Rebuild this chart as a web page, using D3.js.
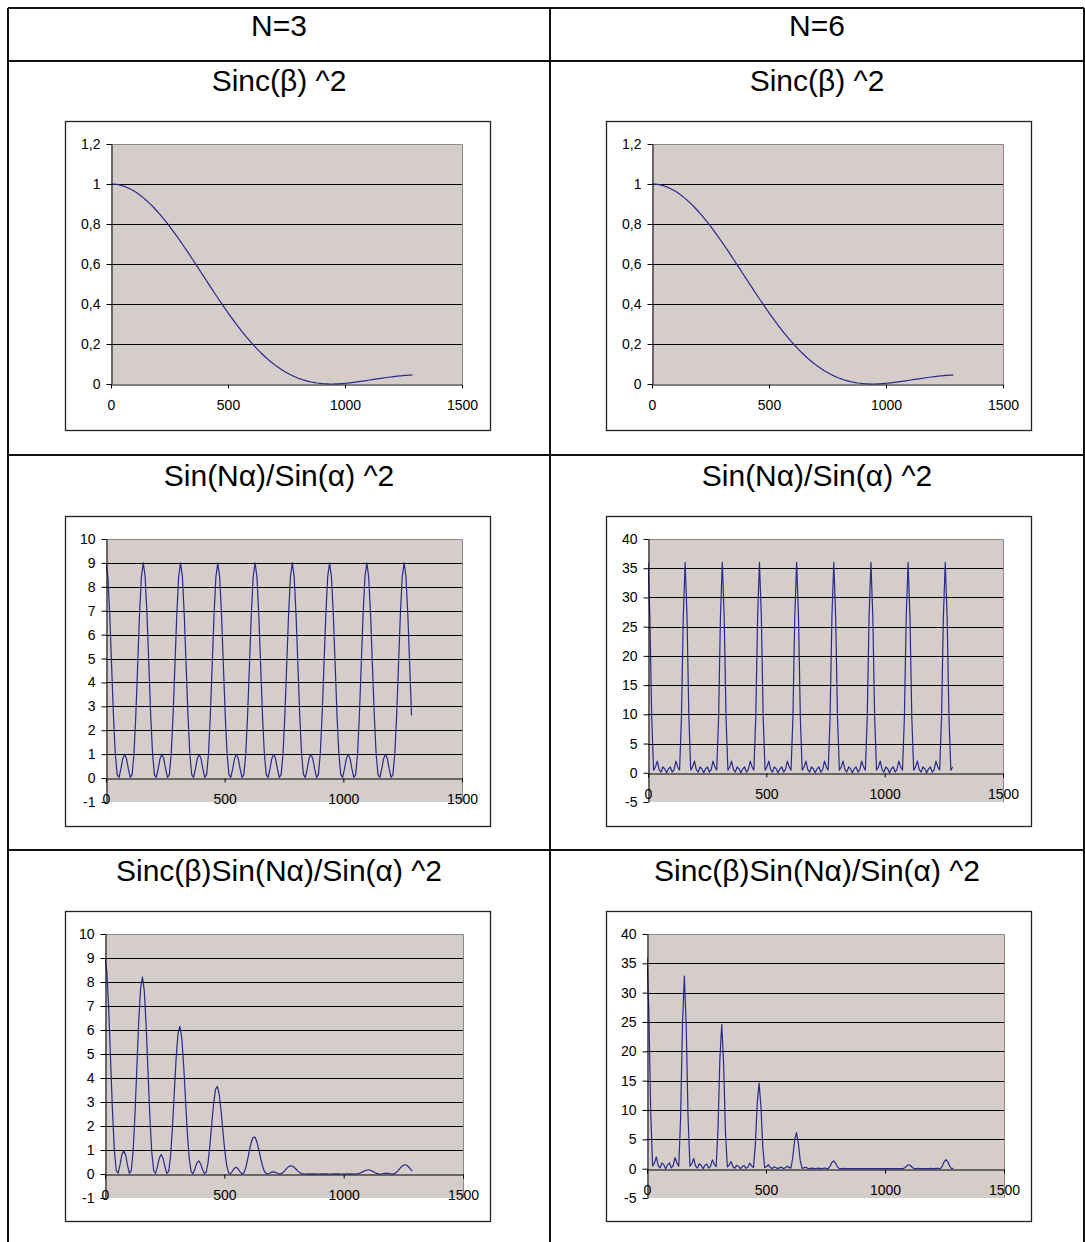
<!DOCTYPE html>
<html>
<head>
<meta charset="utf-8">
<script src="https://cdn.jsdelivr.net/npm/d3@7"></script>
<style>
  html, body { margin: 0; padding: 0; background: #ffffff; }
  svg { display: block; }
</style>
</head>
<body>
<svg id="sheet" width="1085" height="1242"></svg>
<script>
// ---------------------------------------------------------------------------
// Data: sampled intensity curves (x in screen units, one sample every 7.85)
// ---------------------------------------------------------------------------
const xValues = [
  0, 7.85, 15.7, 23.55, 31.4, 39.25, 47.1, 54.95, 62.8, 70.65, 78.5, 86.35, 94.2, 102.05, 109.9, 117.75, 125.6, 133.45, 141.3, 149.15,
  157, 164.85, 172.7, 180.55, 188.4, 196.25, 204.1, 211.95, 219.8, 227.65, 235.5, 243.35, 251.2, 259.05, 266.9, 274.75, 282.6, 290.45, 298.3, 306.15,
  314, 321.85, 329.7, 337.55, 345.4, 353.25, 361.1, 368.95, 376.8, 384.65, 392.5, 400.35, 408.2, 416.05, 423.9, 431.75, 439.6, 447.45, 455.3, 463.15,
  471, 478.85, 486.7, 494.55, 502.4, 510.25, 518.1, 525.95, 533.8, 541.65, 549.5, 557.35, 565.2, 573.05, 580.9, 588.75, 596.6, 604.45, 612.3, 620.15,
  628, 635.85, 643.7, 651.55, 659.4, 667.25, 675.1, 682.95, 690.8, 698.65, 706.5, 714.35, 722.2, 730.05, 737.9, 745.75, 753.6, 761.45, 769.3, 777.15,
  785, 792.85, 800.7, 808.55, 816.4, 824.25, 832.1, 839.95, 847.8, 855.65, 863.5, 871.35, 879.2, 887.05, 894.9, 902.75, 910.6, 918.45, 926.3, 934.15,
  942, 949.85, 957.7, 965.55, 973.4, 981.25, 989.1, 996.95, 1004.8, 1012.65, 1020.5, 1028.35, 1036.2, 1044.05, 1051.9, 1059.75, 1067.6, 1075.45, 1083.3, 1091.15,
  1099, 1106.85, 1114.7, 1122.55, 1130.4, 1138.25, 1146.1, 1153.95, 1161.8, 1169.65, 1177.5, 1185.35, 1193.2, 1201.05, 1208.9, 1216.75, 1224.6, 1232.45, 1240.3, 1248.15,
  1256, 1263.85, 1271.7, 1279.55, 1287.4
];

// Sinc(β)^2 — single-slit envelope
const sincSq = [
  1, 0.9998, 0.9991, 0.9979, 0.9963, 0.9943, 0.9918, 0.9889, 0.9855, 0.9816, 0.9774, 0.9727, 0.9675, 0.962, 0.956, 0.9497, 0.9429, 0.9357, 0.9281, 0.9202,
  0.9119, 0.9032, 0.8942, 0.8848, 0.8751, 0.8651, 0.8548, 0.8442, 0.8332, 0.822, 0.8106, 0.7988, 0.7869, 0.7747, 0.7623, 0.7497, 0.7368, 0.7238, 0.7107, 0.6974,
  0.6839, 0.6703, 0.6566, 0.6428, 0.6289, 0.615, 0.601, 0.5869, 0.5728, 0.5587, 0.5445, 0.5304, 0.5163, 0.5022, 0.4881, 0.4741, 0.4602, 0.4463, 0.4325, 0.4188,
  0.4053, 0.3918, 0.3785, 0.3653, 0.3523, 0.3395, 0.3267, 0.3142, 0.3019, 0.2898, 0.2778, 0.2661, 0.2546, 0.2433, 0.2322, 0.2214, 0.2108, 0.2005, 0.1904, 0.1805,
  0.171, 0.1617, 0.1526, 0.1438, 0.1353, 0.1271, 0.1191, 0.1115, 0.1041, 0.0969, 0.0901, 0.0835, 0.0772, 0.0712, 0.0654, 0.0599, 0.0547, 0.0497, 0.0451, 0.0406,
  0.0365, 0.0326, 0.0289, 0.0255, 0.0223, 0.0194, 0.0167, 0.0142, 0.0119, 0.0099, 0.0081, 0.0065, 0.005, 0.0038, 0.0027, 0.0019, 0.0012, 0.0007, 0.0003, 0.0001,
  0, 0.0001, 0.0003, 0.0006, 0.001, 0.0016, 0.0022, 0.003, 0.0038, 0.0048, 0.0058, 0.0069, 0.008, 0.0092, 0.0104, 0.0117, 0.0131, 0.0144, 0.0158, 0.0172,
  0.0186, 0.02, 0.0215, 0.0229, 0.0243, 0.0257, 0.0271, 0.0285, 0.0298, 0.0311, 0.0324, 0.0337, 0.0349, 0.036, 0.0372, 0.0382, 0.0392, 0.0402, 0.0411, 0.042,
  0.0427, 0.0435, 0.0441, 0.0447, 0.0453
];

// (Sin(Nα)/Sin(α))^2 for N = 3
const gratingN3 = [
  9, 8.422, 6.854, 4.733, 2.618, 1, 0.146, 0.031, 0.382, 0.814, 1, 0.814, 0.382, 0.031, 0.146, 1, 2.618, 4.733, 6.854, 8.422,
  9, 8.422, 6.854, 4.733, 2.618, 1, 0.146, 0.031, 0.382, 0.814, 1, 0.814, 0.382, 0.031, 0.146, 1, 2.618, 4.733, 6.854, 8.422,
  9, 8.422, 6.854, 4.733, 2.618, 1, 0.146, 0.031, 0.382, 0.814, 1, 0.814, 0.382, 0.031, 0.146, 1, 2.618, 4.733, 6.854, 8.422,
  9, 8.422, 6.854, 4.733, 2.618, 1, 0.146, 0.031, 0.382, 0.814, 1, 0.814, 0.382, 0.031, 0.146, 1, 2.618, 4.733, 6.854, 8.422,
  9, 8.422, 6.854, 4.733, 2.618, 1, 0.146, 0.031, 0.382, 0.814, 1, 0.814, 0.382, 0.031, 0.146, 1, 2.618, 4.733, 6.854, 8.422,
  9, 8.422, 6.854, 4.733, 2.618, 1, 0.146, 0.031, 0.382, 0.814, 1, 0.814, 0.382, 0.031, 0.146, 1, 2.618, 4.733, 6.854, 8.422,
  9, 8.422, 6.854, 4.733, 2.618, 1, 0.146, 0.031, 0.382, 0.814, 1, 0.814, 0.382, 0.031, 0.146, 1, 2.618, 4.733, 6.854, 8.422,
  9, 8.422, 6.854, 4.733, 2.618, 1, 0.146, 0.031, 0.382, 0.814, 1, 0.814, 0.382, 0.031, 0.146, 1, 2.618, 4.733, 6.854, 8.422,
  9, 8.422, 6.854, 4.733, 2.618
];

// (Sin(Nα)/Sin(α))^2 for N = 6
const gratingN6 = [
  36, 26.745, 9.472, 0.463, 1, 2, 0.528, 0.12, 1, 0.671, 0, 0.671, 1, 0.12, 0.528, 2, 1, 0.463, 9.472, 26.745,
  36, 26.745, 9.472, 0.463, 1, 2, 0.528, 0.12, 1, 0.671, 0, 0.671, 1, 0.12, 0.528, 2, 1, 0.463, 9.472, 26.745,
  36, 26.745, 9.472, 0.463, 1, 2, 0.528, 0.12, 1, 0.671, 0, 0.671, 1, 0.12, 0.528, 2, 1, 0.463, 9.472, 26.745,
  36, 26.745, 9.472, 0.463, 1, 2, 0.528, 0.12, 1, 0.671, 0, 0.671, 1, 0.12, 0.528, 2, 1, 0.463, 9.472, 26.745,
  36, 26.745, 9.472, 0.463, 1, 2, 0.528, 0.12, 1, 0.671, 0, 0.671, 1, 0.12, 0.528, 2, 1, 0.463, 9.472, 26.745,
  36, 26.745, 9.472, 0.463, 1, 2, 0.528, 0.12, 1, 0.671, 0, 0.671, 1, 0.12, 0.528, 2, 1, 0.463, 9.472, 26.745,
  36, 26.745, 9.472, 0.463, 1, 2, 0.528, 0.12, 1, 0.671, 0, 0.671, 1, 0.12, 0.528, 2, 1, 0.463, 9.472, 26.745,
  36, 26.745, 9.472, 0.463, 1, 2, 0.528, 0.12, 1, 0.671, 0, 0.671, 1, 0.12, 0.528, 2, 1, 0.463, 9.472, 26.745,
  36, 26.745, 9.472, 0.463, 1
];

// Sinc(β)^2 · (Sin(Nα)/Sin(α))^2 for N = 3
const productN3 = [
  9, 8.42, 6.848, 4.723, 2.608, 0.994, 0.145, 0.031, 0.376, 0.799, 0.977, 0.792, 0.37, 0.03, 0.14, 0.95, 2.469, 4.429, 6.361, 7.75,
  8.207, 7.607, 6.129, 4.188, 2.291, 0.865, 0.125, 0.026, 0.318, 0.669, 0.811, 0.65, 0.301, 0.024, 0.111, 0.75, 1.929, 3.426, 4.871, 5.873,
  6.155, 5.645, 4.5, 3.042, 1.646, 0.615, 0.088, 0.018, 0.219, 0.455, 0.545, 0.432, 0.197, 0.016, 0.071, 0.474, 1.205, 2.112, 2.964, 3.527,
  3.648, 3.3, 2.594, 1.729, 0.922, 0.34, 0.048, 0.01, 0.115, 0.236, 0.278, 0.217, 0.097, 0.008, 0.034, 0.221, 0.552, 0.949, 1.305, 1.52,
  1.539, 1.362, 1.046, 0.681, 0.354, 0.127, 0.017, 0.003, 0.04, 0.079, 0.09, 0.068, 0.029, 0.002, 0.01, 0.06, 0.143, 0.235, 0.309, 0.342,
  0.329, 0.275, 0.198, 0.121, 0.058, 0.019, 0.002, 0, 0.005, 0.008, 0.008, 0.005, 0.002, 0, 0, 0.002, 0.003, 0.003, 0.002, 0.001,
  0, 0.001, 0.002, 0.003, 0.003, 0.002, 0, 0, 0.001, 0.004, 0.006, 0.006, 0.003, 0, 0.002, 0.012, 0.034, 0.068, 0.108, 0.145,
  0.167, 0.168, 0.147, 0.108, 0.064, 0.026, 0.004, 0.001, 0.011, 0.025, 0.032, 0.027, 0.013, 0.001, 0.005, 0.038, 0.103, 0.19, 0.282, 0.354,
  0.384, 0.366, 0.302, 0.212, 0.119
];

// Sinc(β)^2 · (Sin(Nα)/Sin(α))^2 for N = 6
const productN6 = [
  36, 26.74, 9.46, 0.462, 0.996, 1.989, 0.524, 0.119, 0.986, 0.659, 0, 0.653, 0.968, 0.115, 0.505, 1.899, 0.943, 0.433, 8.791, 24.61,
  32.83, 24.16, 8.47, 0.41, 0.875, 1.73, 0.451, 0.101, 0.833, 0.552, 0, 0.536, 0.787, 0.093, 0.402, 1.499, 0.737, 0.335, 6.732, 18.65,
  24.62, 17.93, 6.219, 0.298, 0.629, 1.23, 0.317, 0.07, 0.573, 0.375, 0, 0.356, 0.516, 0.06, 0.258, 0.948, 0.46, 0.207, 4.097, 11.2,
  14.59, 10.48, 3.585, 0.169, 0.352, 0.679, 0.172, 0.038, 0.302, 0.194, 0, 0.179, 0.255, 0.029, 0.123, 0.443, 0.211, 0.093, 1.803, 4.827,
  6.156, 4.325, 1.445, 0.067, 0.135, 0.254, 0.063, 0.013, 0.104, 0.065, 0, 0.056, 0.077, 0.009, 0.035, 0.12, 0.055, 0.023, 0.427, 1.086,
  1.314, 0.872, 0.274, 0.012, 0.022, 0.039, 0.009, 0.002, 0.012, 0.007, 0, 0.004, 0.005, 0, 0.001, 0.004, 0.001, 0, 0.003, 0.003,
  0, 0.003, 0.003, 0, 0.001, 0.003, 0.001, 0, 0.004, 0.003, 0, 0.005, 0.008, 0.001, 0.005, 0.023, 0.013, 0.007, 0.15, 0.46,
  0.67, 0.535, 0.204, 0.011, 0.024, 0.051, 0.014, 0.003, 0.03, 0.021, 0, 0.023, 0.035, 0.004, 0.02, 0.076, 0.039, 0.019, 0.389, 1.123,
  1.537, 1.163, 0.418, 0.021, 0.045
];

// Axis ticks
const xTicks = [0, 500, 1000, 1500];
const yTicksSinc = [0, 0.2, 0.4, 0.6, 0.8, 1, 1.2];
const yTicksN3 = [-1, 0, 1, 2, 3, 4, 5, 6, 7, 8, 9, 10];
const yTicksN6 = [-5, 0, 5, 10, 15, 20, 25, 30, 35, 40];

// Table headings
const columnTitles = ["N=3", "N=6"];
const rowTitles = ["Sinc(β) ^2", "Sin(Nα)/Sin(α) ^2", "Sinc(β)Sin(Nα)/Sin(α) ^2"];

// ---------------------------------------------------------------------------
// Layout
// ---------------------------------------------------------------------------
const svg = d3.select("#sheet");
const FONT = "'Liberation Sans', Arial, Helvetica, sans-serif";
const lineColor = "#2a2a8c";
const plotFill = "#d4cdca";

const table = { left: 8, right: 1084, mid: 550, top: 8, bottom: 1242, rules: [61, 455, 850] };
const colCenters = [279, 817];
const headerBaseline = 36;
const titleBaselines = [91, 486, 881];

// chart frames: box = outer chart border, plot = inner plot area
const panels = [
  { row: 0, col: 0, values: sincSq,     ticks: yTicksSinc, box: [65, 121, 490, 430],   plot: [111, 144, 462, 384] },
  { row: 0, col: 1, values: sincSq,     ticks: yTicksSinc, box: [606, 121, 1031, 430], plot: [652, 144, 1003, 384] },
  { row: 1, col: 0, values: gratingN3,  ticks: yTicksN3,   box: [65, 516, 490, 826],   plot: [106, 539, 462, 802] },
  { row: 1, col: 1, values: gratingN6,  ticks: yTicksN6,   box: [606, 516, 1031, 826], plot: [648, 539, 1003, 802] },
  { row: 2, col: 0, values: productN3,  ticks: yTicksN3,   box: [65, 911, 490, 1221],  plot: [105, 934, 463, 1198] },
  { row: 2, col: 1, values: productN6,  ticks: yTicksN6,   box: [606, 911, 1031, 1221],plot: [647, 934, 1004, 1198] }
];

const locale = d3.formatLocale({ decimal: ",", thousands: ".", grouping: [3], currency: ["", ""], minus: "-" });
const fmt = locale.format("~g");

// ---------------------------------------------------------------------------
// Table grid
// ---------------------------------------------------------------------------
const grid = svg.append("g").attr("stroke", "#111").attr("stroke-width", 2);
grid.append("line").attr("x1", table.left).attr("x2", table.right).attr("y1", table.top).attr("y2", table.top);
table.rules.forEach(y => grid.append("line").attr("x1", table.left).attr("x2", table.right).attr("y1", y).attr("y2", y));
[table.left, table.mid, table.right].forEach(x =>
  grid.append("line").attr("x1", x).attr("x2", x).attr("y1", table.top).attr("y2", table.bottom));

svg.append("g").selectAll("text").data(columnTitles).join("text")
  .attr("x", (d, i) => colCenters[i]).attr("y", headerBaseline)
  .attr("text-anchor", "middle").attr("font-family", FONT).attr("font-size", 30).attr("fill", "#000")
  .text(d => d);

rowTitles.forEach((t, r) => {
  colCenters.forEach(cx => {
    svg.append("text").attr("x", cx).attr("y", titleBaselines[r])
      .attr("text-anchor", "middle").attr("font-family", FONT).attr("font-size", 30).attr("fill", "#000")
      .text(t);
  });
});

// ---------------------------------------------------------------------------
// Charts
// ---------------------------------------------------------------------------
panels.forEach((p, idx) => {
  const [bx0, by0, bx1, by1] = p.box;
  const [left, top, right, bottom] = p.plot;
  const yMin = d3.min(p.ticks), yMax = d3.max(p.ticks);

  const x = d3.scaleLinear().domain([0, 1500]).range([left, right]);
  const y = d3.scaleLinear().domain([yMin, yMax]).range([bottom, top]);
  const crisp = v => Math.round(v) + 0.5;

  const g = svg.append("g");

  // chart frame
  g.append("rect").attr("x", bx0 + 0.5).attr("y", by0 + 0.5)
    .attr("width", bx1 - bx0).attr("height", by1 - by0)
    .attr("fill", "#fff").attr("stroke", "#222").attr("stroke-width", 1.3);

  // plot area
  g.append("rect").attr("x", left).attr("y", top)
    .attr("width", right - left).attr("height", bottom - top).attr("fill", plotFill);

  // horizontal gridlines
  g.append("g").selectAll("line").data(p.ticks.filter(v => v > yMin && v < yMax && v !== 0)).join("line")
    .attr("x1", left).attr("x2", right)
    .attr("y1", d => crisp(y(d))).attr("y2", d => crisp(y(d)))
    .attr("stroke", "#000").attr("stroke-width", 1);

  // plot-area border (top and right)
  g.append("path")
    .attr("d", `M${left},${crisp(top)}H${crisp(right)}V${bottom}`)
    .attr("fill", "none").attr("stroke", "#8a8a8a").attr("stroke-width", 1);

  // series line
  const clipId = "clip" + idx;
  g.append("clipPath").attr("id", clipId).append("rect")
    .attr("x", left).attr("y", top - 2).attr("width", right - left).attr("height", bottom - top + 4);
  const line = d3.line().x((d, i) => x(xValues[i])).y(d => y(d));
  g.append("path").datum(p.values)
    .attr("clip-path", `url(#${clipId})`)
    .attr("d", line)
    .attr("fill", "none").attr("stroke", lineColor).attr("stroke-width", 1.2)
    .attr("stroke-linejoin", "round");

  // y axis
  const yAxis = d3.axisLeft(y).tickValues(p.ticks).tickFormat(fmt)
    .tickSize(5).tickSizeOuter(0).tickPadding(6);
  const ya = g.append("g").attr("transform", `translate(${crisp(left)},0)`).call(yAxis);

  // x axis, crossing at y = 0
  const xAxis = d3.axisBottom(x).tickValues(xTicks).tickFormat(fmt)
    .tickSize(4).tickSizeOuter(0).tickPadding(12);
  const xa = g.append("g").attr("transform", `translate(0,${crisp(y(0))})`).call(xAxis);

  [ya, xa].forEach(a => {
    a.select(".domain").attr("stroke", "#000").attr("stroke-width", 1);
    a.selectAll(".tick line").attr("stroke", "#000").attr("stroke-width", 1);
    a.selectAll(".tick text").attr("font-family", FONT).attr("font-size", 14).attr("fill", "#000");
  });
});
</script>
</body>
</html>
